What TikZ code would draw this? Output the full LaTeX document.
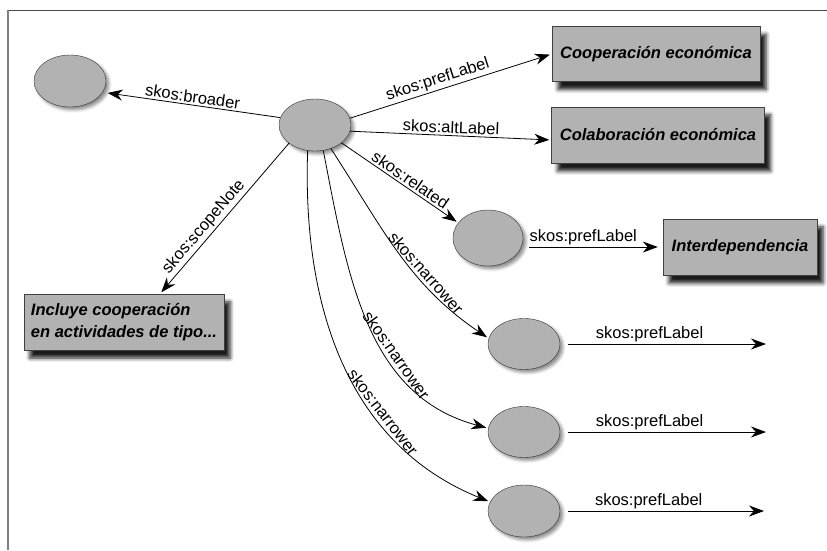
\documentclass[tikz,border=0pt]{standalone}
\usepackage{fontspec}
\setmainfont{Liberation Sans}
\usetikzlibrary{shapes.geometric,arrows.meta,shadows.blur}

\tikzset{
  concept/.style={ellipse, draw=black!80, fill=black!30, minimum width=72pt, minimum height=52pt, inner sep=0pt,
    blur shadow={shadow xshift=3pt, shadow yshift=-3pt, shadow opacity=45, shadow blur radius=3pt}},
  literal/.style={rectangle, draw=black!75, fill=black!30, minimum height=55pt, inner sep=7pt,
    font=\fontsize{16.5}{22}\selectfont\bfseries\itshape,
    blur shadow={shadow xshift=6pt, shadow yshift=-8pt, shadow opacity=90, shadow blur radius=4pt}},
  rel/.style={-{Stealth[length=15pt,width=11pt]}, line width=0.8pt, shorten >=2pt},
  lbl/.style={font=\fontsize{16.5}{20}\selectfont, sloped, above, inner sep=2pt}
}

\begin{document}
\begin{tikzpicture}[x=1pt, y=1pt]
\useasboundingbox (0,0) rectangle (827,550);
\draw[black!70, line width=0.9pt] (827,540) -- (8,540);
\draw[black!50, line width=1.6pt] (8,540) -- (8,0);

\node[concept] (c) at (315,425) {};
\node[concept] (b) at (70,469) {};
\node[concept, minimum width=70pt, minimum height=56pt] (r) at (488,312) {};
\node[concept, minimum height=51pt] (n1) at (524,206) {};
\node[concept, minimum height=51pt] (n2) at (524,118) {};
\node[concept] (n3) at (524,39) {};

\node[literal, minimum width=208pt] (coop) at (656,496) {Cooperación económica};
\node[literal, minimum width=213pt, minimum height=56pt] (colab) at (658,415) {Colaboración económica};
\node[literal, minimum width=154pt, minimum height=56pt] (inter) at (740,303) {Interdependencia};
\node[literal, minimum width=200pt, minimum height=56pt, align=left] (note) at (124,228) {Incluye cooperación\\en actividades de tipo...};

\coordinate (e1) at (768,206);
\coordinate (e2) at (768,118);
\coordinate (e3) at (766,39);

\draw[rel, shorten >=5pt] (c.168) -- node[lbl] {skos:broader} (b.-19);
\draw[rel] (c.11) -- node[lbl, pos=0.45] {skos:prefLabel} (coop.west);
\draw[rel] (c.-10) -- node[lbl] {skos:altLabel} ([yshift=-5pt]colab.west);
\draw[rel] (c.-34) -- node[lbl, pos=0.55] {skos:related} (r.153);
\draw[rel] (c.215) -- node[lbl, pos=0.6] {skos:scopeNote} ([xshift=36pt]note.north);
\draw[rel] (c.-56) to[out=-57, in=146] node[lbl, pos=0.64] {skos:narrower} (n1.171);
\draw[rel] (c.-72) to[out=-79, in=165] node[lbl, pos=0.63] {skos:narrower} (n2.174);
\draw[rel] (c.-106) to[out=-92, in=158] node[lbl, pos=0.66] {skos:narrower} (n3.165);
\draw[rel, shorten <=6pt, shorten >=5pt] (r.east |- inter) -- node[lbl, pos=0.43] {skos:prefLabel} (inter.west);
\draw[rel, shorten <=8pt] (n1.east) -- node[lbl, pos=0.43] {skos:prefLabel} (e1);
\draw[rel, shorten <=8pt] (n2.east) -- node[lbl, pos=0.43] {skos:prefLabel} (e2);
\draw[rel, shorten <=8pt] (n3.east) -- node[lbl, pos=0.43] {skos:prefLabel} (e3);
\end{tikzpicture}
\end{document}
